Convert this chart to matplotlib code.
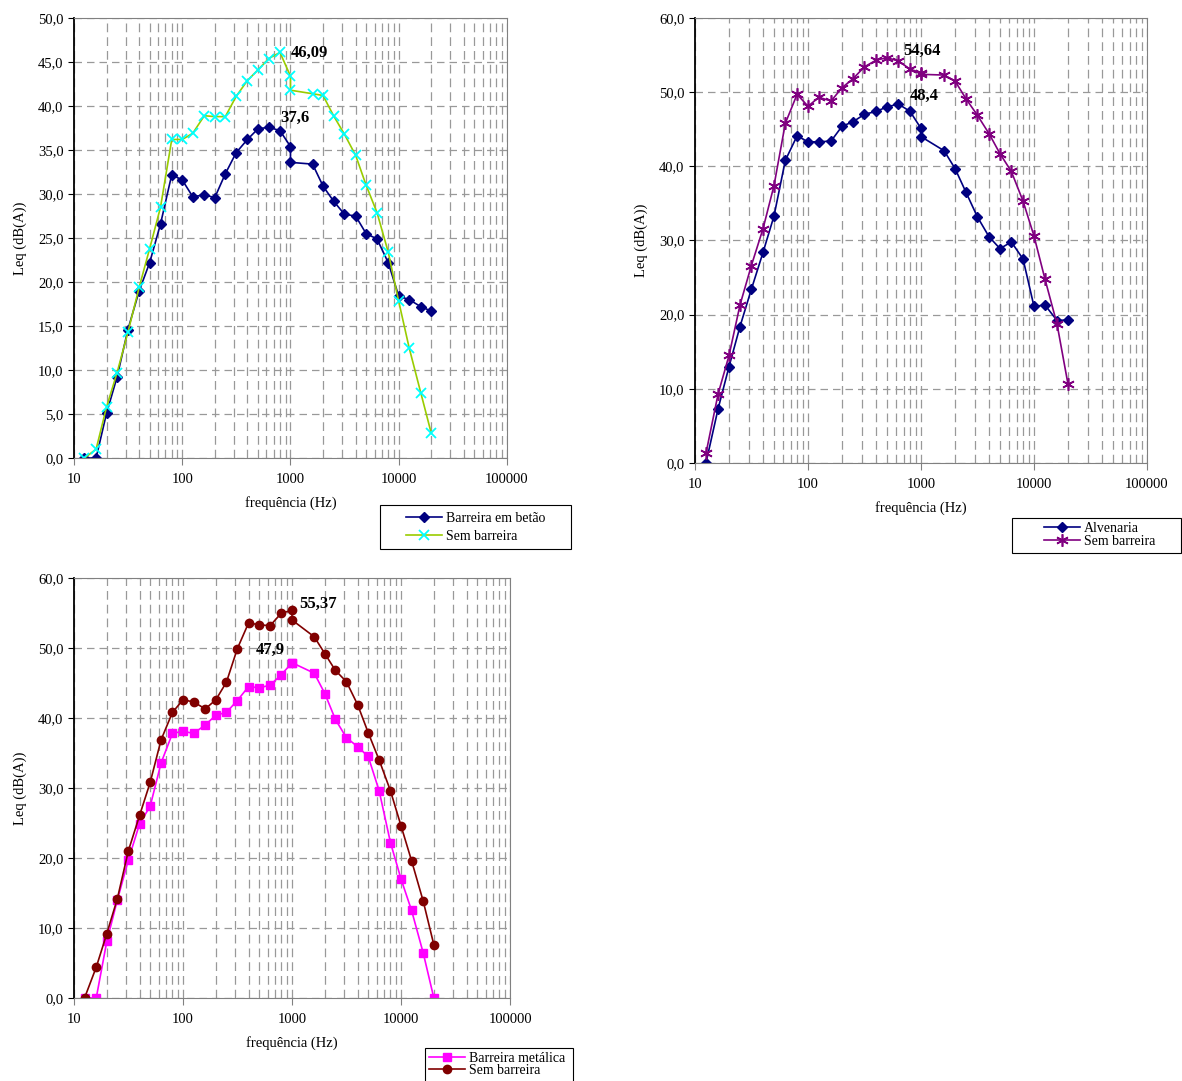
import numpy as np
import matplotlib
matplotlib.use("Agg")
import matplotlib.pyplot as plt
from matplotlib.patches import Rectangle
from matplotlib.ticker import FixedLocator, FuncFormatter, LogLocator, NullFormatter

plt.rcParams["font.family"] = ["Liberation Serif", "DejaVu Serif"]

# frequências (Hz) - 1/3 de oitava, 1000 Hz aparece duas vezes nos dados
FREQ = [12.5, 16, 20, 25, 31.5, 40, 50, 63, 80, 100, 125, 160, 200, 250, 315,
        400, 500, 630, 800, 1000, 1000, 1600, 2000, 2500, 3150, 4000, 5000,
        6300, 8000, 10000, 12500, 16000, 20000]

# Gráfico 1: barreira em betão
BETAO = [0, 0, 5.1, 9.2, 14.6, 19.0, 22.2, 26.6, 32.2, 31.6, 29.7, 29.9, 29.6,
         32.3, 34.7, 36.2, 37.4, 37.6, 37.2, 35.4, 33.6, 33.4, 30.9, 29.2, 27.7,
         27.5, 25.5, 24.9, 22.2, 18.4, 18.0, 17.2, 16.7]
SEM_1 = [0, 1.0, 5.8, 9.7, 14.3, 19.4, 23.8, 28.5, 36.2, 36.2, 36.9, 38.9, 38.8,
         38.8, 41.1, 42.9, 44.1, 45.4, 46.09, 43.4, 41.8, 41.4, 41.2, 38.9, 36.8,
         34.4, 31.0, 27.9, 23.4, 17.8, 12.5, 7.4, 2.8]

# Gráfico 2: alvenaria
ALVENARIA = [0, 7.3, 13.0, 18.4, 23.4, 28.4, 33.3, 40.8, 44.1, 43.3, 43.3, 43.4,
             45.4, 46.0, 47.0, 47.4, 48.0, 48.4, 47.4, 45.1, 44.0, 42.1, 39.7,
             36.5, 33.2, 30.5, 28.9, 29.8, 27.5, 21.1, 21.3, 19.2, 19.3]
SEM_2 = [1.3, 9.3, 14.5, 21.3, 26.6, 31.6, 37.4, 45.8, 49.7, 48.1, 49.3, 48.8,
         50.6, 51.8, 53.4, 54.3, 54.64, 54.2, 53.1, 52.6, 52.4, 52.3, 51.5, 49.1,
         46.9, 44.4, 41.7, 39.3, 35.3, 30.6, 24.8, 18.7, 10.6]

# Gráfico 3: barreira metálica
METALICA = [0, 0, 8.1, 14.0, 19.7, 24.9, 27.4, 33.6, 37.8, 38.1, 37.8, 39.0,
            40.4, 40.8, 42.5, 44.5, 44.3, 44.7, 46.2, 47.9, 47.9, 46.4, 43.5,
            39.8, 37.2, 35.9, 34.5, 29.6, 22.2, 17.0, 12.5, 6.4, 0]
SEM_3 = [0, 4.4, 9.2, 14.2, 21.0, 26.1, 30.8, 36.9, 40.8, 42.6, 42.3, 41.3, 42.6,
         45.1, 49.9, 53.6, 53.3, 53.2, 55.0, 55.37, 54.0, 51.6, 49.2, 46.8, 45.2,
         41.9, 37.9, 34.0, 29.6, 24.6, 19.6, 13.8, 7.6]

W, H = 1182, 1081


def base_axes(ax, ymax, ystep):
    ax.set_xscale("log")
    ax.set_xlim(10, 100000)
    ax.set_ylim(0, ymax)
    ax.xaxis.set_major_locator(FixedLocator([10, 100, 1000, 10000, 100000]))
    ax.xaxis.set_major_formatter(FuncFormatter(lambda v, p: f"{v:.0f}"))
    ax.xaxis.set_minor_locator(LogLocator(base=10, subs=np.arange(2, 10)))
    ax.xaxis.set_minor_formatter(NullFormatter())
    ax.yaxis.set_major_locator(FixedLocator(np.arange(0, ymax + 0.1, ystep)))
    ax.yaxis.set_major_formatter(FuncFormatter(lambda v, p: f"{v:.1f}".replace(".", ",")))
    ax.tick_params(axis="x", which="major", length=5, color="#808080", labelsize=10.5, pad=6)
    ax.tick_params(axis="x", which="minor", length=0)
    ax.tick_params(axis="y", length=4, labelsize=10.5)
    ax.grid(True, axis="x", which="both", color="#999999", linestyle=(0, (7, 4)), linewidth=0.9)
    ax.grid(True, axis="y", which="major", color="#999999", linestyle=(0, (6, 4)), linewidth=0.9)
    for s in ("top", "right", "bottom"):
        ax.spines[s].set_color("#808080")
    ax.spines["left"].set_color("black")
    ax.spines["left"].set_linewidth(1.3)
    ax.set_ylabel("Leq (dB(A))", fontsize=10.5, labelpad=8)
    ax.set_xlabel("frequência (Hz)", fontsize=10.5, labelpad=7)


def boxed_legend(handles, box, handle_x, center_y, spacing):
    """Legenda sem moldura + retângulo desenhado à mão (coordenadas em pixels)."""
    x0, y0, x1, y1 = box
    fig.patches.append(Rectangle((x0 / W, 1 - y1 / H), (x1 - x0) / W, (y1 - y0) / H,
                                 transform=fig.transFigure, fill=False,
                                 edgecolor="black", linewidth=0.8))
    fig.legend(handles=handles, loc="center left", bbox_to_anchor=(handle_x / W, 1 - center_y / H),
               bbox_transform=fig.transFigure, frameon=False, fontsize=10, borderpad=0,
               borderaxespad=0, handlelength=2.6, handletextpad=0.3, labelspacing=spacing)


fig = plt.figure(figsize=(11.82, 10.81), dpi=100)

# ---- 1
ax1 = fig.add_axes([0.0626, 0.5763, 0.3663, 0.407])
base_axes(ax1, 50, 5)
l1, = ax1.plot(FREQ, BETAO, color="#000080", marker="D", markersize=5.5, linewidth=1.2,
               label="Barreira em betão")
l2, = ax1.plot(FREQ, SEM_1, color="#99CC00", marker="x", markersize=7, markeredgecolor="#00FFFF",
               markeredgewidth=1.3, linewidth=1.2, label="Sem barreira")
ax1.text(1000, 46.0, "46,09", fontsize=12, fontweight="bold", va="center")
ax1.text(800, 38.7, "37,6", fontsize=12, fontweight="bold", va="center")
boxed_legend([l1, l2], (380, 505, 571, 549), 406, 527.5, 0.38)

# ---- 2
ax2 = fig.add_axes([0.588, 0.5717, 0.3824, 0.4117])
base_axes(ax2, 60, 10)
l3, = ax2.plot(FREQ, ALVENARIA, color="#000080", marker="D", markersize=5.5, linewidth=1.2,
               label="Alvenaria")
l4, = ax2.plot(FREQ, SEM_2, color="#800080", marker=(6, 2, 0), markersize=9,
               markeredgewidth=1.2, linewidth=1.2, label="Sem barreira")
ax2.text(700, 55.6, "54,64", fontsize=12, fontweight="bold", va="center")
ax2.text(800, 49.5, "48,4", fontsize=12, fontweight="bold", va="center")
boxed_legend([l3, l4], (1012, 518, 1181, 553), 1044, 535, -0.05)

# ---- 3
ax3 = fig.add_axes([0.0626, 0.0768, 0.3689, 0.3885])
base_axes(ax3, 60, 10)
l5, = ax3.plot(FREQ, METALICA, color="#FF00FF", marker="s", markersize=6, linewidth=1.2,
               label="Barreira metálica")
l6, = ax3.plot(FREQ, SEM_3, color="#800000", marker="o", markersize=6, linewidth=1.2,
               label="Sem barreira")
ax3.text(1160, 56.3, "55,37", fontsize=12, fontweight="bold", va="center")
ax3.text(460, 49.7, "47,9", fontsize=12, fontweight="bold", va="center")
boxed_legend([l5, l6], (425, 1048, 573, 1085), 429, 1064.5, -0.05)

fig.savefig("out.png", dpi=100)
